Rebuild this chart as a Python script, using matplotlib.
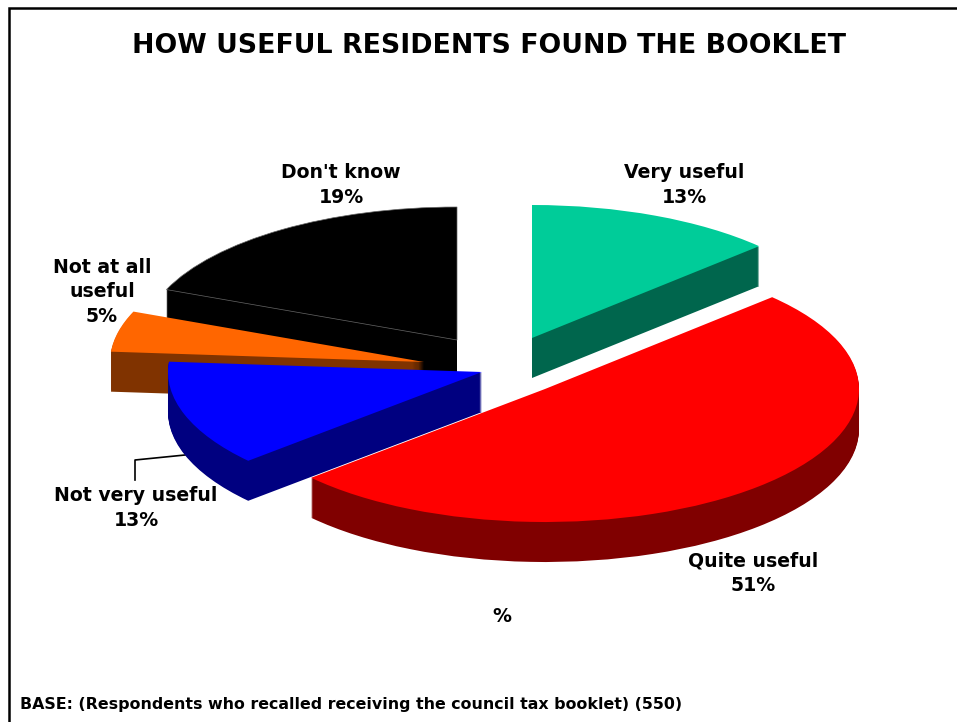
import numpy as np
import matplotlib
matplotlib.use("Agg")
import matplotlib.pyplot as plt
from matplotlib.patches import Wedge

categories = ["Very useful", "Quite useful", "Not very useful", "Not at all useful", "Don't know"]
values = [13, 51, 13, 5, 19]
label_text = ["Very useful\n13%", "Quite useful\n51%", "Not very useful\n13%", "Not at all\nuseful\n5%", "Don't know\n19%"]
top_colors = ["#00CC99", "#FF0000", "#0000FF", "#FF6600", "#000000"]
side_colors = ["#00664D", "#800000", "#000080", "#803300", "#000000"]

W, H = 957, 722
RADIUS = 314
SQUASH = 133 / 314
DEPTH = 40

# apex of each exploded slice, in image pixels
apexes = [(532, 338), (545, 389), (482, 372), (424, 362), (457, 340)]
label_pos = [(684, 185), (753, 573), (136, 508), (102, 292), (341, 185)]
# back to front
draw_order = [4, 3, 0, 1, 2]


def to_data(x, y):
    return x, (H - y) / SQUASH


fig = plt.figure(figsize=(W / 100, H / 100), dpi=100)
ax = fig.add_axes([0, 0, 1, 1])
ax.set_xlim(0, W)
ax.set_ylim(0, H / SQUASH)
ax.axis("off")

fractions = np.array(values) / sum(values)
ends = np.cumsum(fractions) * 360
starts = ends - fractions * 360

for z, i in enumerate(draw_order):
    # pie runs clockwise from twelve o'clock
    theta1, theta2 = 90 - ends[i], 90 - starts[i]
    cx, cy = to_data(*apexes[i])
    for d in range(DEPTH, 0, -1):
        ax.add_patch(Wedge((cx, cy - d / SQUASH), RADIUS, theta1, theta2,
                           facecolor=side_colors[i], edgecolor="none", zorder=z * 2))
    edge = "#666666" if categories[i] == "Don't know" else "none"
    ax.add_patch(Wedge((cx, cy), RADIUS, theta1, theta2, facecolor=top_colors[i],
                       edgecolor=edge, linewidth=0.5, zorder=z * 2 + 1))

# leader line for the blue slice
lx, ly = to_data(135, 480)
mx, my = to_data(135, 460)
nx, ny = to_data(185, 455)
ax.plot([lx, mx, nx], [ly, my, ny], color="black", lw=1.2, zorder=5)

# chart frame
fx, fy = to_data(9, 722)
gx, gy = to_data(9, 8)
hx, hy = to_data(957, 8)
ax.plot([fx, gx, hx], [fy, gy, hy], color="black", lw=1.8, zorder=20, solid_joinstyle="miter")

font = {"family": "DejaVu Sans", "weight": "bold", "color": "black"}
for text, (x, y) in zip(label_text, label_pos):
    tx, ty = to_data(x, y)
    ax.text(tx, ty, text, ha="center", va="center", fontsize=13.6, linespacing=1.36, zorder=30, **font)

tx, ty = to_data(489, 46)
ax.text(tx, ty, "HOW USEFUL RESIDENTS FOUND THE BOOKLET", ha="center", va="center", fontsize=19.3, **font)
tx, ty = to_data(502, 616)
ax.text(tx, ty, "%", ha="center", va="center", fontsize=13.6, **font)
tx, ty = to_data(20, 704)
ax.text(tx, ty, "BASE: (Respondents who recalled receiving the council tax booklet) (550)",
        ha="left", va="center", fontsize=11.45, **font)

fig.savefig("out.png", dpi=100, facecolor="white")
plt.close(fig)
